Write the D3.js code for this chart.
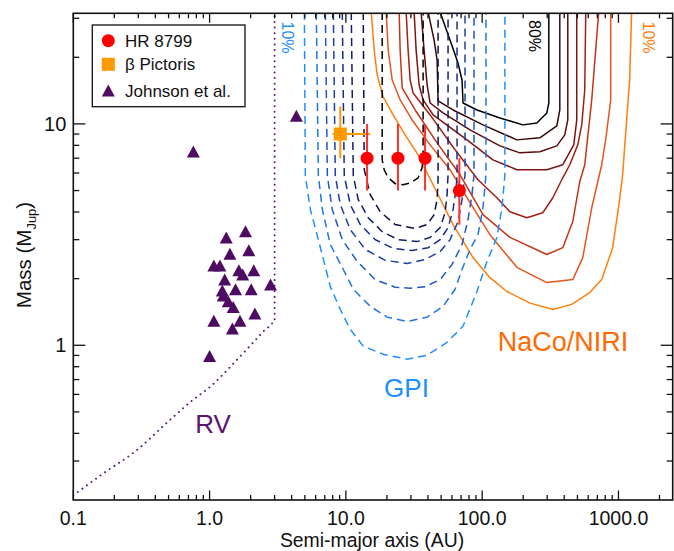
<!DOCTYPE html>
<html>
<head>
<meta charset="utf-8">
<script src="https://cdn.jsdelivr.net/npm/d3@7"></script>
<style>
body { margin: 0; background: #fff; }
text { font-family: "Liberation Sans", Arial, Helvetica, sans-serif; }
</style>
</head>
<body>
<div id="chart"></div>
<script>
// data (semi-major axis in AU, mass in MJup)

// HR 8799 planets
var hrSep = [14.3, 24.1, 38.1, 68.0];
var hrMass = [7.0, 7.0, 7.0, 5.0];
var hrMassLo = [5.0, 5.0, 5.0, 3.5];
var hrMassHi = [10.0, 10.0, 10.0, 7.0];

// beta Pictoris b
var bpSep = [9.1];
var bpSepLo = [8.0];
var bpSepHi = [15.1];
var bpMass = [9.0];
var bpMassLo = [7.0];
var bpMassHi = [12.0];

// Johnson et al. RV planets
var johnsonSep = [4.33, 0.76, 1.835, 1.325, 1.94, 1.41, 1.075, 1.19, 1.64, 2.11, 1.75, 1.29,
                  2.80, 1.55, 2.02, 1.24, 1.26, 1.37, 1.49, 2.15, 1.075, 1.67, 1.47, 1.0];
var johnsonMass = [10.9, 7.5, 3.27, 3.07, 2.69, 2.59, 2.29, 2.29, 2.18, 2.18, 2.09, 1.98,
                   1.88, 1.79, 1.79, 1.77, 1.68, 1.58, 1.49, 1.39, 1.29, 1.29, 1.19, 0.895];

// RV sensitivity limit
var rvSep = [0.1, 0.168, 0.296, 0.49, 0.767, 1.017, 1.42, 1.94, 2.50, 2.96, 3.0, 3.0];
var rvMass = [0.21, 0.265, 0.338, 0.449, 0.571, 0.652, 0.80, 0.98, 1.16, 1.29, 1.31, 32];

// GPI completeness contours (10% ... 80%)
var gpi10 = [[4.96,32],[5.04,5.83],[5.49,4.10],[6.28,3.00],[7.69,1.84],[9.10,1.45],[10.77,1.18],[13.41,0.99],[18.79,0.911],[28.15,0.865],[39.45,0.902],[55.25,1.03],[72.36,1.22],[91.6,1.75],[108.4,2.39],[128.3,3.07],[139.6,4.18],[146.8,5.89],[146.8,32]];
var gpi20 = [[6.07,32],[6.28,5.83],[6.72,4.10],[7.69,2.85],[9.57,2.20],[11.33,1.79],[15.09,1.50],[20.10,1.34],[28.15,1.28],[39.45,1.34],[51.64,1.50],[63.24,1.79],[71.15,2.20],[81.42,2.71],[93.18,3.16],[101.4,4.18],[106.6,5.89],[106.6,32]];
var gpi30 = [[7.07,32],[7.31,5.83],[7.95,4.10],[9.41,3.00],[12.12,2.39],[16.41,1.98],[22.99,1.83],[29.61,1.81],[38.14,1.84],[49.12,1.98],[60.1,2.32],[71.15,2.85],[78.71,3.69],[84.22,4.79],[87.10,5.89],[87.10,32]];
var gpi40 = [[8.09,32],[8.36,5.83],[9.10,4.32],[10.77,3.33],[13.87,2.71],[19.43,2.42],[28.15,2.34],[38.14,2.44],[49.12,2.65],[58.13,3.00],[66.51,3.62],[71.15,4.55],[74.84,5.89],[74.84,32]];
var gpi50 = [[9.41,32],[9.73,5.83],[10.77,4.32],[12.75,3.51],[16.41,3.00],[22.23,2.74],[30.63,2.68],[40.12,2.76],[49.12,3.00],[56.19,3.40],[61.14,4.10],[64.31,5.04],[65.40,5.89],[65.40,32]];
var gpi60 = [[10.95,32],[11.33,5.83],[12.32,4.55],[14.59,3.77],[18.47,3.26],[24.19,3.00],[33.33,2.94],[41.50,3.07],[49.12,3.40],[53.44,3.97],[55.25,4.79],[56.19,5.89],[56.19,32]];
var gpi70 = [[13.41,32],[13.64,6.21],[15.09,4.79],[17.86,4.01],[22.99,3.51],[32.22,3.37],[39.45,3.51],[44.39,3.89],[46.69,4.55],[47.48,5.59],[47.48,32]];
var gpi80 = [[18.47,32],[18.47,6.88],[19.10,6.21],[20.44,5.71],[22.99,5.37],[26.31,5.31],[30.11,5.42],[33.88,5.71],[36.25,6.34],[36.87,7.25],[36.87,32]];

// NaCo/NIRI completeness contours (10% ... 80%)
var naco10 = [[15.35,32],[16.14,21.5],[16.98,16.62],[18.79,13.23],[22.23,10.98],[27.22,8.92],[33.88,7.25],[43.65,5.31],[61.14,3.51],[85.66,2.49],[114.0,2.02],[151.9,1.75],[223.8,1.55],[329.9,1.45],[454.5,1.53],[615.5,1.73],[753.4,1.98],[907.0,2.76],[1020,4.55],[1073,5.89],[1148,10.42],[1208,15.79],[1249,32]];
var naco20 = [[19.76,32],[20.44,21.5],[21.87,15.79],[25.02,12.83],[30.63,10.42],[41.50,8.04],[58.13,6.21],[81.42,4.41],[114.0,3.16],[179.8,2.25],[298.1,1.92],[462.2,1.98],[547.0,2.49],[636.5,4.18],[753.4,6.54],[805.9,8.47],[876.9,12.83],[876.9,32]];
var naco30 = [[24.60,32],[25.02,21.5],[25.88,14.53],[32.22,11.56],[46.69,8.21],[68.80,5.89],[101.4,3.89],[159.8,3.07],[298.1,2.57],[390.4,2.76],[462.2,3.62],[520.0,5.48],[565.7,6.54],[636.5,12.83],[716.3,32]];
var naco40 = [[27.68,32],[28.62,21.5],[29.61,15.79],[31.15,13.79],[41.50,10.98],[63.24,7.64],[93.18,5.59],[128.3,4.64],[159.8,4.01],[212.8,3.77],[278.6,3.97],[329.9,4.64],[390.4,5.71],[439.4,6.54],[502.7,8.04],[537.8,9.90],[565.7,14.23],[575.4,32]];
var naco50 = [[31.67,32],[32.77,21.5],[34.46,14.99],[36.87,12.83],[43.65,10.98],[77.40,8.47],[119.9,6.88],[179.8,6.21],[298.1,6.21],[390.4,6.54],[469.9,8.04],[494.3,10.42],[494.3,32]];
var naco60 = [[35.65,32],[37.50,21.5],[39.45,14.99],[41.50,12.43],[51.64,11.21],[81.42,9.40],[135.0,7.96],[189.1,7.40],[264.9,7.48],[352.9,7.96],[403.8,8.92],[424.8,10.42],[424.8,32]];
var naco70 = [[40.12,32],[44.39,23.9],[46.69,19.4],[47.48,12.70],[61.14,11.56],[101.4,9.90],[179.8,8.47],[264.9,8.65],[352.9,9.79],[371.2,11.56],[371.2,32]];
var naco80 = [[49.12,32],[58.13,23.9],[66.51,18.83],[71.15,15.79],[72.36,12.43],[91.6,11.56],[135.0,10.64],[198.9,9.90],[251.8,10.10],[298.1,11.21],[308.3,12.43],[308.3,32]];

// axes
var xDomain = [0.1, 2500];
var yDomain = [0.2, 31.6];
var xTickValues = [0.1, 1, 10, 100, 1000];
var xTickLabels = ["0.1", "1.0", "10.0", "100.0", "1000.0"];
var yTickValues = [1, 10];
var yTickLabels = ["1", "10"];

var svgWidth = 674;
var svgHeight = 551;
var margin = { top: 13.3, right: 1.3, bottom: 51, left: 73.3 };
var width = svgWidth - margin.left - margin.right;
var height = svgHeight - margin.top - margin.bottom;

var gpiColors = ["#1f8fff", "#1f76e4", "#2056c6", "#1c3fa6", "#172d8a", "#121e6c", "#0b1146", "#000000"];
var nacoColors = ["#ff7f0e", "#e8541a", "#c43418", "#a11e14", "#7e1410", "#5c0d0b", "#380606", "#000000"];
var purple = "#4e0b62";

var svg = d3.select("#chart")
    .append("svg")
    .attr("width", svgWidth)
    .attr("height", svgHeight);

svg.append("defs").append("clipPath")
    .attr("id", "plotClip")
    .append("rect")
    .attr("width", width)
    .attr("height", height);

var chartGroup = svg.append("g")
    .attr("transform", `translate(${margin.left}, ${margin.top})`);

var x = d3.scaleLog().domain(xDomain).range([0, width]);
var y = d3.scaleLog().domain(yDomain).range([height, 0]);

var plotArea = chartGroup.append("g").attr("clip-path", "url(#plotClip)");

var line = d3.line()
    .x(d => x(d[0]))
    .y(d => y(d[1]));

// NaCo/NIRI solid contours
var nacoSets = [naco10, naco20, naco30, naco40, naco50, naco60, naco70, naco80];
nacoSets.forEach(function (c, i) {
    plotArea.append("path")
        .attr("d", line(c))
        .attr("fill", "none")
        .attr("stroke", nacoColors[i])
        .attr("stroke-width", 1.5)
        .attr("stroke-linejoin", "round");
});

// GPI dashed contours
var gpiSets = [gpi10, gpi20, gpi30, gpi40, gpi50, gpi60, gpi70, gpi80];
gpiSets.forEach(function (c, i) {
    plotArea.append("path")
        .attr("d", line(c))
        .attr("fill", "none")
        .attr("stroke", gpiColors[i])
        .attr("stroke-width", 1.5)
        .attr("stroke-dasharray", "8,5");
});

// RV limit (dotted)
var rvData = rvSep.map((s, i) => [s, rvMass[i]]);
plotArea.append("path")
    .attr("d", line.curve(d3.curveMonotoneX)(rvData.slice(0, 11)))
    .attr("fill", "none")
    .attr("stroke", "#5a1a78")
    .attr("stroke-width", 2)
    .attr("stroke-linecap", "round")
    .attr("stroke-dasharray", "0.01,5.6");
line.curve(d3.curveLinear);
plotArea.append("path")
    .attr("d", line(rvData.slice(10)))
    .attr("fill", "none")
    .attr("stroke", "#5a1a78")
    .attr("stroke-width", 2)
    .attr("stroke-linecap", "round")
    .attr("stroke-dasharray", "0.01,5.6");

// Johnson et al. triangles
function triPath(w, h) {
    return `M0,${-h / 2}L${w / 2},${h / 2}L${-w / 2},${h / 2}Z`;
}
plotArea.selectAll(".tri")
    .data(johnsonSep.map((s, i) => [s, johnsonMass[i]]))
    .enter()
    .append("path")
    .attr("class", "tri")
    .attr("d", triPath(13, 12))
    .attr("transform", d => `translate(${x(d[0])}, ${y(d[1])})`)
    .attr("fill", purple);

// beta Pic
var bpG = plotArea.append("g");
bpG.append("line")
    .attr("x1", x(bpSepLo[0])).attr("x2", x(bpSepHi[0]))
    .attr("y1", y(bpMass[0])).attr("y2", y(bpMass[0]))
    .attr("stroke", "#ff9900").attr("stroke-width", 2);
bpG.append("line")
    .attr("x1", x(bpSep[0])).attr("x2", x(bpSep[0]))
    .attr("y1", y(bpMassLo[0])).attr("y2", y(bpMassHi[0]))
    .attr("stroke", "#ff9900").attr("stroke-width", 2);
bpG.append("rect")
    .attr("x", x(bpSep[0]) - 6.5).attr("y", y(bpMass[0]) - 6.5)
    .attr("width", 13).attr("height", 13)
    .attr("fill", "#ff9900");

// HR 8799
var hrData = hrSep.map((s, i) => ({ sep: s, mass: hrMass[i], lo: hrMassLo[i], hi: hrMassHi[i] }));
plotArea.selectAll(".hrbar")
    .data(hrData)
    .enter()
    .append("line")
    .attr("class", "hrbar")
    .attr("x1", d => x(d.sep)).attr("x2", d => x(d.sep))
    .attr("y1", d => y(d.lo)).attr("y2", d => y(d.hi))
    .attr("stroke", "#ff3030").attr("stroke-width", 2);
plotArea.selectAll(".hrdot")
    .data(hrData)
    .enter()
    .append("circle")
    .attr("class", "hrdot")
    .attr("cx", d => x(d.sep))
    .attr("cy", d => y(d.mass))
    .attr("r", 6.5)
    .attr("fill", "#ff0000");

// region labels
chartGroup.append("text")
    .attr("x", 213 - margin.left).attr("y", 433 - margin.top)
    .attr("text-anchor", "middle")
    .attr("font-size", 26).attr("fill", "#5a1470")
    .text("RV");
chartGroup.append("text")
    .attr("x", 406.5 - margin.left).attr("y", 397 - margin.top)
    .attr("text-anchor", "middle")
    .attr("font-size", 26).attr("fill", "#1e8fff")
    .text("GPI");
chartGroup.append("text")
    .attr("x", 563 - margin.left).attr("y", 351 - margin.top)
    .attr("text-anchor", "middle")
    .attr("font-size", 27).attr("fill", "#ff6a00")
    .text("NaCo/NIRI");

// contour level labels (rotated)
var levelLabels = [
    { t: "10%", x: 282, y: 21.5, c: "#1f8fff" },
    { t: "80%", x: 529, y: 20, c: "#000000" },
    { t: "10%", x: 642.5, y: 21.5, c: "#ff7f0e" }
];
levelLabels.forEach(function (l) {
    svg.append("text")
        .attr("transform", `translate(${l.x}, ${l.y}) rotate(90)`)
        .attr("font-size", 16)
        .attr("fill", l.c)
        .text(l.t);
});

// frame and ticks
var frame = chartGroup.append("g");
frame.append("rect")
    .attr("width", width).attr("height", height)
    .attr("fill", "none").attr("stroke", "#111").attr("stroke-width", 1.6);

var xMinor = [];
[0.1, 1, 10, 100, 1000].forEach(function (d) {
    for (var k = 2; k <= 9; k++) { if (k * d < xDomain[1]) xMinor.push(k * d); }
});
var yMinor = [];
[0.1, 1, 10].forEach(function (d) {
    for (var k = 2; k <= 9; k++) { if (k * d > yDomain[0] && k * d < yDomain[1]) yMinor.push(k * d); }
});

function xTicks(vals, len) {
    vals.forEach(function (v) {
        frame.append("line").attr("x1", x(v)).attr("x2", x(v))
            .attr("y1", height).attr("y2", height - len)
            .attr("stroke", "#111").attr("stroke-width", 1.3);
        frame.append("line").attr("x1", x(v)).attr("x2", x(v))
            .attr("y1", 0).attr("y2", len)
            .attr("stroke", "#111").attr("stroke-width", 1.3);
    });
}
function yTicks(vals, len) {
    vals.forEach(function (v) {
        frame.append("line").attr("y1", y(v)).attr("y2", y(v))
            .attr("x1", 0).attr("x2", len)
            .attr("stroke", "#111").attr("stroke-width", 1.3);
        frame.append("line").attr("y1", y(v)).attr("y2", y(v))
            .attr("x1", width).attr("x2", width - len)
            .attr("stroke", "#111").attr("stroke-width", 1.3);
    });
}
xTicks(xTickValues, 9.5);
xTicks(xMinor, 5);
yTicks(yTickValues, 12);
yTicks(yMinor, 6);

chartGroup.selectAll(".xlab")
    .data(xTickValues)
    .enter()
    .append("text")
    .attr("x", d => x(d))
    .attr("y", height + 25)
    .attr("text-anchor", "middle")
    .attr("font-size", 19.5)
    .attr("fill", "#111")
    .text((d, i) => xTickLabels[i]);

chartGroup.selectAll(".ylab")
    .data(yTickValues)
    .enter()
    .append("text")
    .attr("x", -7)
    .attr("y", d => y(d))
    .attr("dy", "0.36em")
    .attr("text-anchor", "end")
    .attr("font-size", 20)
    .attr("fill", "#111")
    .text((d, i) => yTickLabels[i]);

// axis titles
svg.append("text")
    .attr("x", 372).attr("y", 546.6)
    .attr("text-anchor", "middle")
    .attr("font-size", 19.4)
    .attr("fill", "#111")
    .text("Semi-major axis (AU)");

var yTitle = svg.append("text")
    .attr("transform", "translate(31, 255) rotate(-90)")
    .attr("text-anchor", "middle")
    .attr("font-size", 20.5)
    .attr("fill", "#111");
yTitle.append("tspan").text("Mass (M");
yTitle.append("tspan").attr("font-size", 13).attr("dy", 5).text("Jup");
yTitle.append("tspan").attr("dy", -5).text(")");

// legend
var legend = svg.append("g");
legend.append("rect")
    .attr("x", 92.3).attr("y", 25)
    .attr("width", 152.7).attr("height", 81.7)
    .attr("fill", "#fff").attr("stroke", "#111").attr("stroke-width", 1.3);
legend.append("circle").attr("cx", 108.3).attr("cy", 40.7).attr("r", 6.5).attr("fill", "#ff0000");
legend.append("rect").attr("x", 101.8).attr("y", 57.8).attr("width", 13).attr("height", 13).attr("fill", "#ff9900");
legend.append("path").attr("d", triPath(13, 12)).attr("transform", "translate(108.3, 90.5)").attr("fill", purple);
var legendText = ["HR 8799", "\u03b2 Pictoris", "Johnson et al."];
[40.7, 64.3, 90.5].forEach(function (cy, i) {
    legend.append("text")
        .attr("x", 125).attr("y", cy).attr("dy", "0.36em")
        .attr("font-size", 17).attr("fill", "#111")
        .text(legendText[i]);
});
</script>
</body>
</html>
